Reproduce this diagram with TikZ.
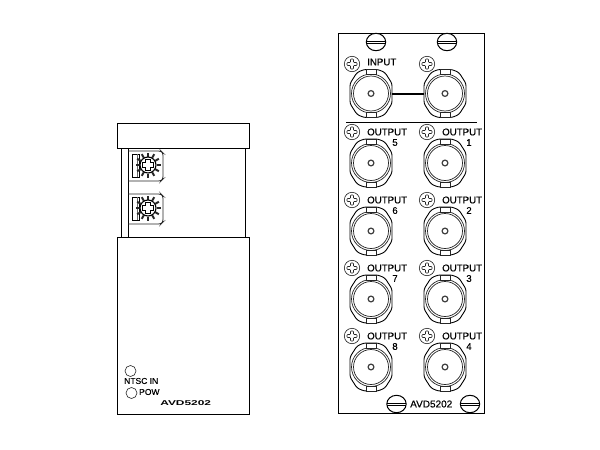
\documentclass[tikz,border=0pt]{standalone}
\usepackage{fontspec}
\setmainfont{Liberation Sans}
\newfontfamily\heavyf[FakeBold=0.25]{Liberation Sans}
\tikzset{
  panel/.style={draw=black,line width=1pt},
  lab/.style={inner sep=0pt,font=\heavyf\fontsize{9.7}{10}\selectfont,text=black},
}
\usetikzlibrary{calc}
\newcommand{\bncshape}[2]{%
  \begin{scope}[shift={(#1)}]
   \draw[black,line width=.9pt,rounded corners=2.5pt] (-7,-24)--(7,-24)--(14,-21)--(21,-10)--(21,10)--(14,21)--(7,24)--(-7,24)--(-14,21)--(-21,10)--(-21,-10)--(-14,-21)--cycle;
   \draw[black!85,line width=.7pt] (0,0) circle (19.5);
   \draw[black!85,line width=.7pt] (0,0) circle (17.5);
   \draw[black!85,line width=.6pt,fill=white] (-5,-24)rectangle(5,-19);
   \draw[black!85,line width=.6pt,fill=white] (-5,24)rectangle(5,19);
   \draw[black!75,line width=1.2pt] (0,0) circle (2.9);
  \end{scope}%
  \coordinate (#2w) at ($(#1)+(-21,0)$);\coordinate (#2e) at ($(#1)+(21,0)$);}
\newcommand{\crossscrew}[1]{%
  \begin{scope}[shift={(#1)}]
   \draw[black!85,line width=.6pt] (0,0) circle (7.7);
   \draw[black!85,line width=.6pt,rounded corners=.8pt] (-1.5,-5)--(1.5,-5)--(1.5,-1.5)--(5,-1.5)--(5,1.5)--(1.5,1.5)--(1.5,5)--(-1.5,5)--(-1.5,1.5)--(-5,1.5)--(-5,-1.5)--(-1.5,-1.5)--cycle;
  \end{scope}}
\newcommand{\slotscrew}[1]{%
  \begin{scope}[shift={(#1)}]
   \draw[black,line width=1pt] (0,0) ellipse (9.7 and 8.7);
   \draw[black,line width=.8pt] (-9.7,-.9)--(9.7,-.9) (-9.7,.9)--(9.7,.9);
  \end{scope}}
\newcommand{\rotary}[1]{%
  \begin{scope}[shift={(#1)}]
   \draw[black!85,line width=.8pt,rounded corners=2.5pt] (0,0)--(33,0)--(35,2)--(35,28)--(33,30)--(0,30);
   \draw[black,line width=.8pt] (4,3) rectangle (11,26);
   \draw[black!60,line width=.4pt] (9.5,3)--(9.5,26);
   \foreach \a in {0,30,...,330}{\draw[black!85,line width=1.9pt] ($(20,14)+(\a:8.5)$)--($(20,14)+(\a:12.5)$);}
   \draw[black,line width=1.1pt] (20,14) circle (8);
   \draw[black,line width=1pt] (17.5,8.5)--(22.5,8.5)--(22.5,11.5)--(25.5,11.5)--(25.5,16.5)--(22.5,16.5)--(22.5,19.5)--(17.5,19.5)--(17.5,16.5)--(14.5,16.5)--(14.5,11.5)--(17.5,11.5)--cycle;
  \end{scope}}
\begin{document}
\begin{tikzpicture}[x=1pt,y=-1pt]
\useasboundingbox (0,0) rectangle (600,450);
\fill[white] (0,0) rectangle (600,450);
% left unit
\draw[panel] (117,123) rectangle (249.5,148);
\draw[panel] (121,148)--(121,237) (128,148)--(128,237) (245,148)--(245,237);
\draw[panel] (117,237) rectangle (249.5,414);
\rotary{128,151}
\rotary{128,194}
\draw[black!85,line width=.6pt] (130.5,371) circle (5.5);
\draw[black!85,line width=.6pt] (131.5,393) circle (5.5);
\node[lab,anchor=west,font=\heavyf\fontsize{8.5}{9}\selectfont] (ntsc) at (124,381) {NTSC IN};
\node[lab,anchor=west,font=\heavyf\fontsize{8.5}{9}\selectfont] (pow) at (139,392) {POW};
\node[lab,anchor=west,font=\fontsize{7}{8}\selectfont\bfseries,xscale=1.7] (avdl) at (160,403) {AVD5202};
% right unit
\draw[panel] (338,33) rectangle (484,413);
\slotscrew{376,42}
\slotscrew{447,42}
\slotscrew{396.5,404}
\slotscrew{470,404}
\draw[black,line width=.8pt] (346,122)--(477,122);
% input
\crossscrew{352,64}
\crossscrew{427,64}
\node[lab,anchor=west,font=\heavyf\fontsize{9.7}{10}\selectfont] (inp) at (367,62) {INPUT};
\bncshape{371,93.5}{ia}
\bncshape{445,93.5}{ib}
\draw[black,line width=2pt] (iae)--(ibw);
% outputs
\foreach \y/\l/\r [count=\i] in {132/5/1,200/6/2,268/7/3,336/8/4}{
  \crossscrew{352,\y}
  \crossscrew{427,\y}
  \node[lab,anchor=west] (ol\i) at (367,\y) {OUTPUT};
  \node[lab,anchor=west] (or\i) at (442,\y) {OUTPUT};
  \node[lab] (nl\i) at (395,\y+10.5) {\l};
  \node[lab] (nr\i) at (469,\y+10.5) {\r};
  \bncshape{371,\y+31}{ol\i b}
  \bncshape{445,\y+31}{or\i b}
}
\node[lab,anchor=west,font=\heavyf\fontsize{10}{11}\selectfont] (avdr) at (410,404) {AVD5202};
\end{tikzpicture}
\end{document}
